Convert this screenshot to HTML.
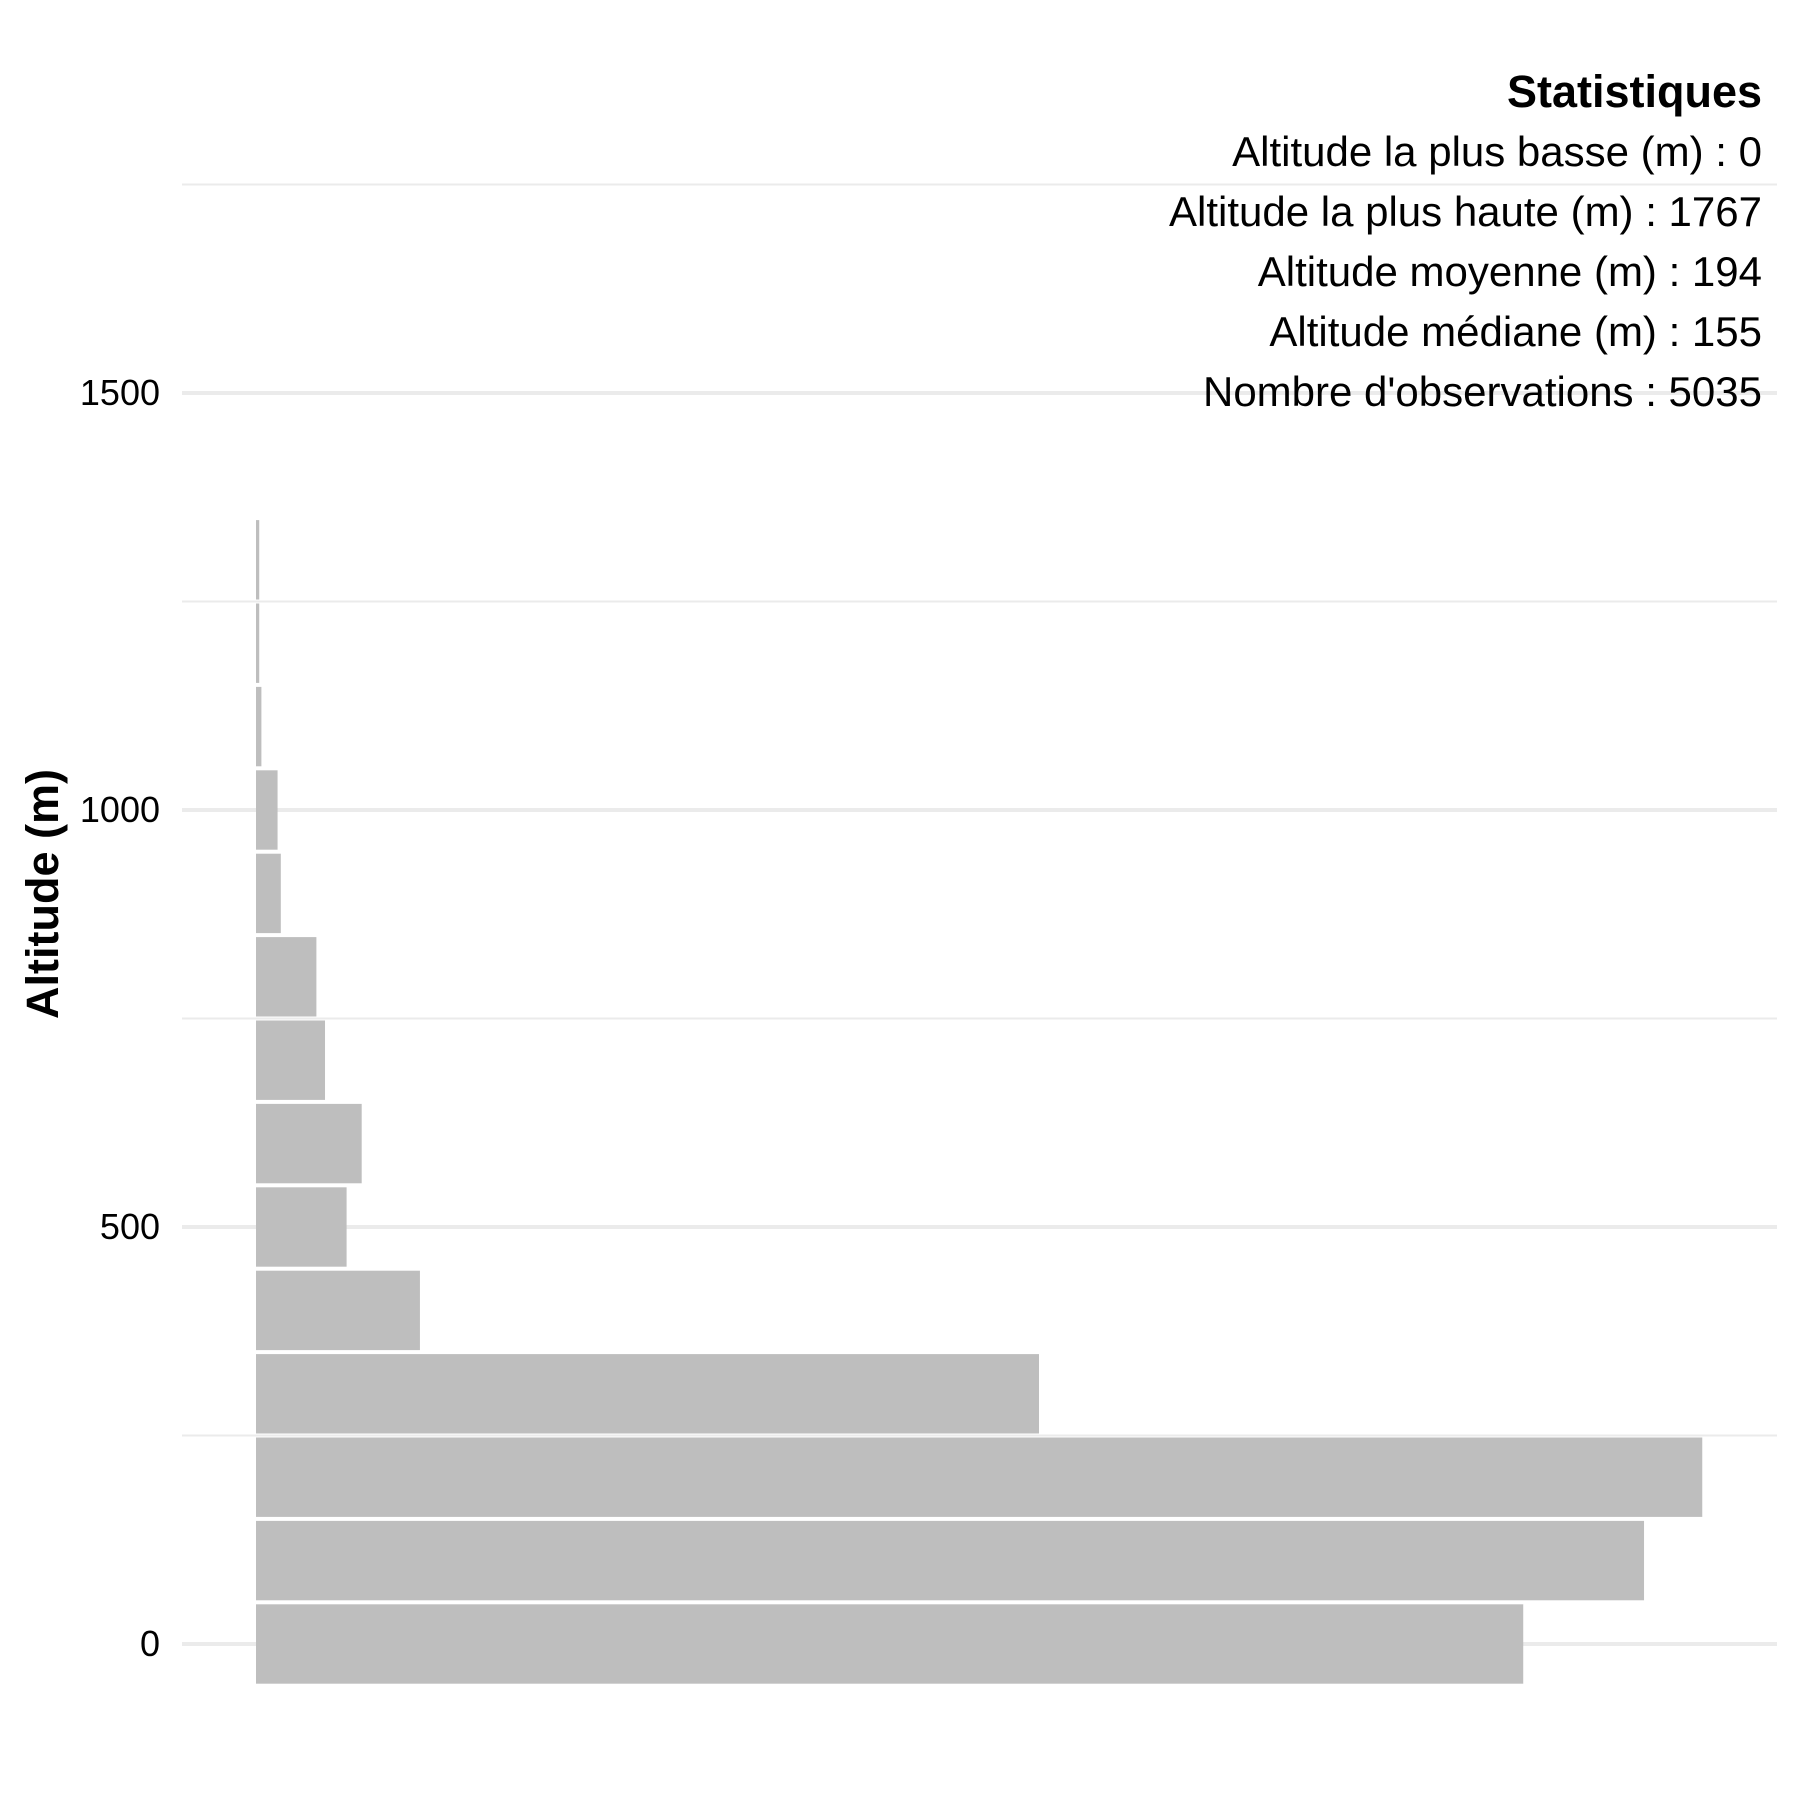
<!DOCTYPE html>
<html><head><meta charset="utf-8"><style>body{margin:0;background:#fff}svg{display:block}text{font-family:"Liberation Sans",Arial,sans-serif}</style></head>
<body>
<svg id="chart" width="1800" height="1800" xmlns="http://www.w3.org/2000/svg">
<g id="grid"></g>
<g id="bars"></g>
<g id="ticks"></g>
<text transform="translate(58,894) rotate(-90)" text-anchor="middle" font-size="45" font-weight="bold">Altitude (m)</text>
<g text-anchor="end" font-size="42">
<text x="1762" y="107" font-weight="bold" font-size="45">Statistiques</text>
<text x="1762" y="166">Altitude la plus basse (m) : 0</text>
<text x="1762" y="226">Altitude la plus haute (m) : 1767</text>
<text x="1762" y="286">Altitude moyenne (m) : 194</text>
<text x="1762" y="346">Altitude médiane (m) : 155</text>
<text x="1762" y="406">Nombre d'observations : 5035</text>
</g>
</svg>
<script>
const binCenters=[0,100,200,300,400,500,600,700,800,900,1000,1100,1200,1300];
const counts=[1175,1287,1341,726,152,84,98,64,56,23,20,5,3,3];
const majorTicks=[0,500,1000,1500];
const minorTicks=[250,750,1250,1750];
const tickLabels=["0","500","1000","1500"];
const binWidth=100;
const NS="http://www.w3.org/2000/svg";
const y0=1644, pxPerM=0.834, x0=256, pxPerCount=1.0785;
const yS=v=>y0-v*pxPerM;
const xS=c=>x0+c*pxPerCount;
const grid=document.getElementById('grid'),bars=document.getElementById('bars'),ticks=document.getElementById('ticks');
function line(v,w,name){const l=document.createElementNS(NS,'line');
l.setAttribute('x1',182);l.setAttribute('x2',1777);l.setAttribute('y1',yS(v));l.setAttribute('y2',yS(v));
l.setAttribute('stroke','#ebebeb');l.setAttribute('stroke-width',w);


grid.appendChild(l);}
minorTicks.forEach(v=>line(v,2,'minor-gridline'));
majorTicks.forEach(v=>line(v,4,'major-gridline'));
majorTicks.forEach((v,i)=>{const t=document.createElementNS(NS,'text');
t.setAttribute('x',160);t.setAttribute('y',yS(v)+12);t.setAttribute('text-anchor','end');t.setAttribute('font-size','36');
t.textContent=tickLabels[i];


ticks.appendChild(t);});
binCenters.forEach((c,i)=>{const r=document.createElementNS(NS,'rect');
const top=yS(c+binWidth/2),bot=yS(c-binWidth/2);
r.setAttribute('x',x0);r.setAttribute('y',top+2);r.setAttribute('width',Math.max(0,xS(counts[i])-x0));r.setAttribute('height',bot-top-4);
r.setAttribute('fill','#bebebe');


bars.appendChild(r);});
</script>
</body></html>
